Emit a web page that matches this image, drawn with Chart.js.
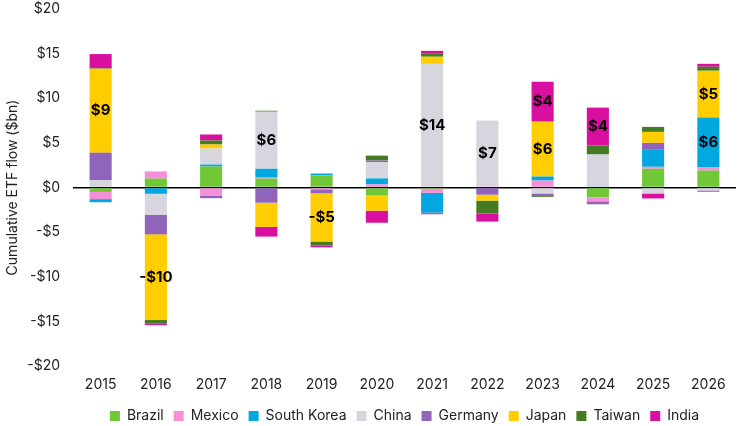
<!DOCTYPE html>
<html>
<head>
<meta charset="utf-8">
<script src="https://cdn.jsdelivr.net/npm/chart.js@4/dist/chart.umd.min.js"></script>
<style>
  html, body { margin: 0; padding: 0; background: #fff; }
  #wrap { width: 740px; height: 426px; }
</style>
</head>
<body>
<div id="wrap"><canvas id="chart"></canvas></div>
<script>
// Cumulative ETF flow ($bn) per year, by country
const years = ['2015', '2016', '2017', '2018', '2019', '2020', '2021', '2022', '2023', '2024', '2025', '2026'];

const brazil     = [-0.5, 1.0, 2.35, 1.0, 1.35, -0.9, -0.15, 0, 0, -1.1, 2.1, 1.9];
const mexico     = [-0.8, 0.8, -0.9, 0.1, -0.2, 0.35, -0.45, 0.1, 0.78, -0.45, 0.22, 0.33];
const southKorea = [-0.35, -0.7, 0.22, 1.0, 0.22, 0.67, -2.2, 0, 0.45, 0.1, 1.9, 5.6];
const china      = [0.8, -2.35, 1.8, 6.4, 0, 1.8, 13.85, 7.4, -0.67, 3.6, -0.67, -0.33];
const germany    = [3.1, -2.2, -0.3, -1.7, -0.45, 0.2, -0.2, -0.8, -0.3, -0.33, 0.78, -0.15];
const japan      = [9.4, -9.6, 0.45, -2.7, -5.4, -1.7, 0.8, -0.67, 6.15, 0, 1.23, 5.25];
const taiwan     = [0.05, -0.37, 0.45, 0.1, -0.45, 0.55, 0.33, -1.45, -0.1, 1.0, 0.56, 0.45];
const india      = [1.6, -0.2, 0.67, -1.1, -0.2, -1.35, 0.33, -0.9, 4.47, 4.25, -0.56, 0.33];

const series = [
    { label: 'Brazil', data: brazil, color: '#71C837' },
    { label: 'Mexico', data: mexico, color: '#F48FD8' },
    { label: 'South Korea', data: southKorea, color: '#00A8DF' },
    { label: 'China', data: china, color: '#D7D6DE' },
    { label: 'Germany', data: germany, color: '#9164BB' },
    { label: 'Japan', data: japan, color: '#FFCD00' },
    { label: 'Taiwan', data: taiwan, color: '#447A22' },
    { label: 'India', data: india, color: '#D9109F' }
];

const FONT = 'Inter, "Noto Sans", sans-serif';

// Value labels inside the large segments
const segmentLabels = {
    id: 'segmentLabels',
    afterDatasetsDraw(chart) {
        const ctx = chart.ctx;
        ctx.save();
        ctx.font = 'bold 15px ' + FONT;
        ctx.fillStyle = '#000';
        ctx.textAlign = 'center';
        ctx.textBaseline = 'middle';
        chart.data.datasets.forEach((ds, i) => {
            const meta = chart.getDatasetMeta(i);
            meta.data.forEach((bar, j) => {
                const v = ds.data[j];
                if (Math.abs(v) < 4) return;
                const txt = (v < 0 ? '-$' : '$') + Math.round(Math.abs(v));
                ctx.fillText(txt, bar.x, (bar.y + bar.base) / 2);
            });
        });
        ctx.restore();
    }
};

// Center the legend under the plot area instead of the whole canvas
const legendUnderPlot = {
    id: 'legendUnderPlot',
    afterLayout(chart) {
        if (!chart.legend) return;
        chart.legend.left = chart.chartArea.left;
        chart.legend.right = chart.chartArea.right;
    }
};

new Chart(document.getElementById('chart'), {
    type: 'bar',
    data: {
        labels: years,
        datasets: series.map(s => ({
            label: s.label,
            data: s.data,
            backgroundColor: s.color,
            borderWidth: 0,
            barPercentage: 0.4,
            categoryPercentage: 1.0
        }))
    },
    options: {
        responsive: true,
        maintainAspectRatio: false,
        animation: false,
        layout: { padding: { left: 0, right: 4, top: 0, bottom: -7 } },
        plugins: {
            tooltip: { enabled: false },
            legend: {
                position: 'bottom',
                labels: {
                    color: '#222',
                    font: { family: FONT, size: 14 },
                    boxWidth: 10,
                    boxHeight: 10,
                    padding: 10
                }
            }
        },
        scales: {
            x: {
                stacked: true,
                grid: { display: false, drawTicks: false },
                border: { display: false },
                ticks: {
                    color: '#222',
                    font: { family: FONT, size: 14 },
                    padding: 10
                },
                afterFit: (scale) => { scale.height = 33; }
            },
            y: {
                stacked: true,
                min: -20,
                max: 20,
                z: 1,
                border: { display: false },
                grid: {
                    drawTicks: false,
                    lineWidth: 1.5,
                    color: (ctx) => (ctx.tick && ctx.tick.value === 0 ? '#000' : 'rgba(0,0,0,0)')
                },
                ticks: {
                    stepSize: 5,
                    color: '#222',
                    font: { family: FONT, size: 14 },
                    padding: 13,
                    callback: (v) => (v < 0 ? '-$' : '$') + Math.abs(v)
                },
                title: {
                    display: true,
                    text: 'Cumulative ETF flow ($bn)',
                    color: '#222',
                    font: { family: FONT, size: 14 },
                    padding: { top: 4, bottom: 0 }
                },
                afterFit: (scale) => {
                    scale.width = 73;
                    scale.paddingTop = 9;
                    scale.paddingBottom = 0;
                }
            }
        }
    },
    plugins: [segmentLabels, legendUnderPlot]
});
</script>
</body>
</html>
